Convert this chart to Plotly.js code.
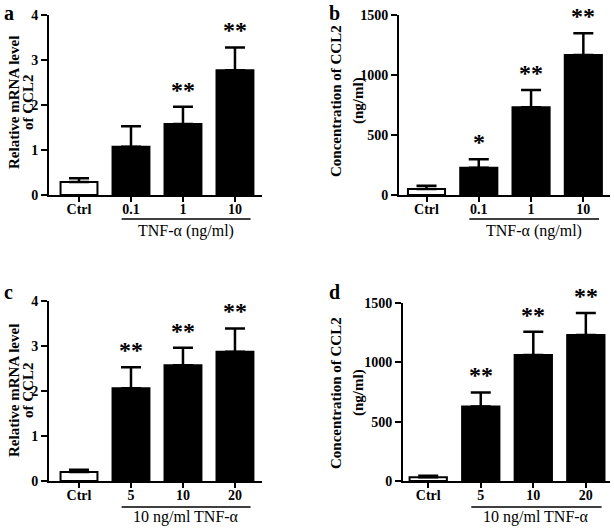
<!DOCTYPE html>
<html>
<head>
<meta charset="utf-8">
<script src="https://cdn.plot.ly/plotly-3.0.1.min.js"></script>
<style>html,body{margin:0;padding:0;background:#fff;}#chart{width:614px;height:531px;}</style>
</head>
<body>
<div id="chart"></div>
<script>
// ---- data ----
const catsAB = ["Ctrl", "0.1", "1", "10"];
const catsCD = ["Ctrl", "5", "10", "20"];

const meanA = [0.29, 1.07, 1.58, 2.77];
const errA  = [0.08, 0.46, 0.38, 0.51];
const starsA = ["", "", "**", "**"];

const meanB = [50, 228, 731, 1167];
const errB  = [28, 69, 144, 180];
const starsB = ["", "*", "**", "**"];

const meanC = [0.20, 2.06, 2.57, 2.87];
const errC  = [0.05, 0.47, 0.39, 0.52];
const starsC = ["", "**", "**", "**"];

const meanD = [31, 627, 1061, 1230];
const errD  = [14, 119, 197, 186];
const starsD = ["", "**", "**", "**"];

const panelLabels = ["a", "b", "c", "d"];
const yTitleLines = [["Relative mRNA level", "of CCL2"], ["Concentration of CCL2", "(ng/ml)"],
                     ["Relative mRNA level", "of CCL2"], ["Concentration of CCL2", "(ng/ml)"]];
const groupLabels = ["TNF-α (ng/ml)", "TNF-α (ng/ml)", "10 ng/ml TNF-α", "10 ng/ml TNF-α"];

// ---- drawing ----
const W = 614, H = 531;
const FONT = "'Liberation Serif', 'Times New Roman', serif";
const px = v => v / W;
const py = v => 1 - v / H;

const panels = [
  {cats: catsAB, mean: meanA, err: errA, stars: starsA, xa: "x",  ya: "y"},
  {cats: catsAB, mean: meanB, err: errB, stars: starsB, xa: "x2", ya: "y2"},
  {cats: catsCD, mean: meanC, err: errC, stars: starsC, xa: "x3", ya: "y3"},
  {cats: catsCD, mean: meanD, err: errD, stars: starsD, xa: "x4", ya: "y4"}
];

const traces = panels.map(p => ({
  type: "bar",
  x: p.cats,
  y: p.mean,
  xaxis: p.xa, yaxis: p.ya,
  width: 0.71,
  marker: {
    color: p.cats.map(c => c === "Ctrl" ? "#ffffff" : "#000000"),
    line: {color: "#000000", width: 2}
  },
  error_y: {type: "data", symmetric: false, array: p.err, arrayminus: p.err.map(() => 0),
            color: "#000000", thickness: 2.5, width: 10},
  hoverinfo: "skip",
  showlegend: false
}));

function xAxis(domain, range, cats) {
  return {
    type: "category", domain: domain, range: range, categoryarray: cats,
    showline: true, linecolor: "#000", linewidth: 2,
    ticks: "outside", ticklen: 5, tickwidth: 2, tickcolor: "#000",
    ticklabelstandoff: -5,
    showgrid: false, zeroline: false, fixedrange: true,
    tickfont: {family: FONT, size: 14, color: "#000", weight: "bold"}
  };
}
function yAxis(domain, range, dtick) {
  return {
    domain: domain, range: range, dtick: dtick, tick0: 0,
    showline: true, linecolor: "#000", linewidth: 2,
    ticks: "outside", ticklen: 6, tickwidth: 2, tickcolor: "#000",
    showgrid: false, zeroline: false, fixedrange: true,
    tickfont: {family: FONT, size: 14, color: "#000", weight: "bold"}
  };
}

const layout = {
  width: W, height: H,
  margin: {l: 0, r: 0, t: 0, b: 0},
  paper_bgcolor: "#fff", plot_bgcolor: "rgba(0,0,0,0)",
  showlegend: false,
  xaxis:  xAxis([px(49), px(262)], [-0.577, 3.52], catsAB),
  yaxis:  yAxis([py(195), py(15)], [0, 4], 1),
  xaxis2: xAxis([px(399), px(610)], [-0.526, 3.51], catsAB),
  yaxis2: yAxis([py(195), py(15)], [0, 1500], 500),
  xaxis3: xAxis([px(49), px(262)], [-0.577, 3.52], catsCD),
  yaxis3: yAxis([py(481), py(301)], [0, 4], 1),
  xaxis4: xAxis([px(403), px(610)], [-0.48, 3.46], catsCD),
  yaxis4: yAxis([py(481), py(303)], [0, 1500], 500),
  shapes: [],
  annotations: []
};
layout.xaxis.anchor = "y"; layout.yaxis.anchor = "x";
layout.xaxis2.anchor = "y2"; layout.yaxis2.anchor = "x2";
layout.xaxis3.anchor = "y3"; layout.yaxis3.anchor = "x3";
layout.xaxis4.anchor = "y4"; layout.yaxis4.anchor = "x4";

// stars
panels.forEach(p => {
  p.cats.forEach((c, i) => {
    if (!p.stars[i]) return;
    layout.annotations.push({
      xref: p.xa, yref: p.ya, x: i, y: p.mean[i] + p.err[i],
      text: p.stars[i], showarrow: false, yanchor: "bottom", xanchor: "center", yshift: 2,
      font: {family: FONT, size: 24, color: "#000", weight: "bold"}
    });
  });
});

// group underline + label
const lineY = [219, 219, 507, 507];
const textY = [231, 231, 517, 517];
panels.forEach((p, k) => {
  layout.shapes.push({type: "line", xref: p.xa, yref: "paper",
    x0: 0.82, x1: 3.3, y0: py(lineY[k]), y1: py(lineY[k]),
    line: {color: "#000", width: 1.5}});
  layout.annotations.push({xref: p.xa, yref: "paper", x: 2.06, y: py(textY[k]),
    text: groupLabels[k], showarrow: false, xanchor: "center", yanchor: "middle",
    font: {family: FONT, size: 16, color: "#000"}});
});

// y-axis titles (rotated, one annotation per line)
const titleX = [[14, 28], [336, 358], [14, 28], [336, 358]];
const titleY = [103, 101, 391, 393];
yTitleLines.forEach((lines, k) => {
  lines.forEach((t, j) => {
    layout.annotations.push({xref: "paper", yref: "paper", x: px(titleX[k][j]), y: py(titleY[k]),
      text: t, textangle: -90, showarrow: false, xanchor: "center", yanchor: "middle",
      font: {family: FONT, size: 15, color: "#000", weight: "bold"}});
  });
});

// panel letters
const letterPos = [[2, 0], [327, 0], [2, 279], [327, 279]];
panelLabels.forEach((t, k) => {
  layout.annotations.push({xref: "paper", yref: "paper", x: px(letterPos[k][0]), y: py(letterPos[k][1]),
    text: t, showarrow: false, xanchor: "left", yanchor: "top",
    font: {family: FONT, size: 20, color: "#000", weight: "bold"}});
});

Plotly.newPlot("chart", traces, layout, {displayModeBar: false, staticPlot: true});
</script>
</body>
</html>
